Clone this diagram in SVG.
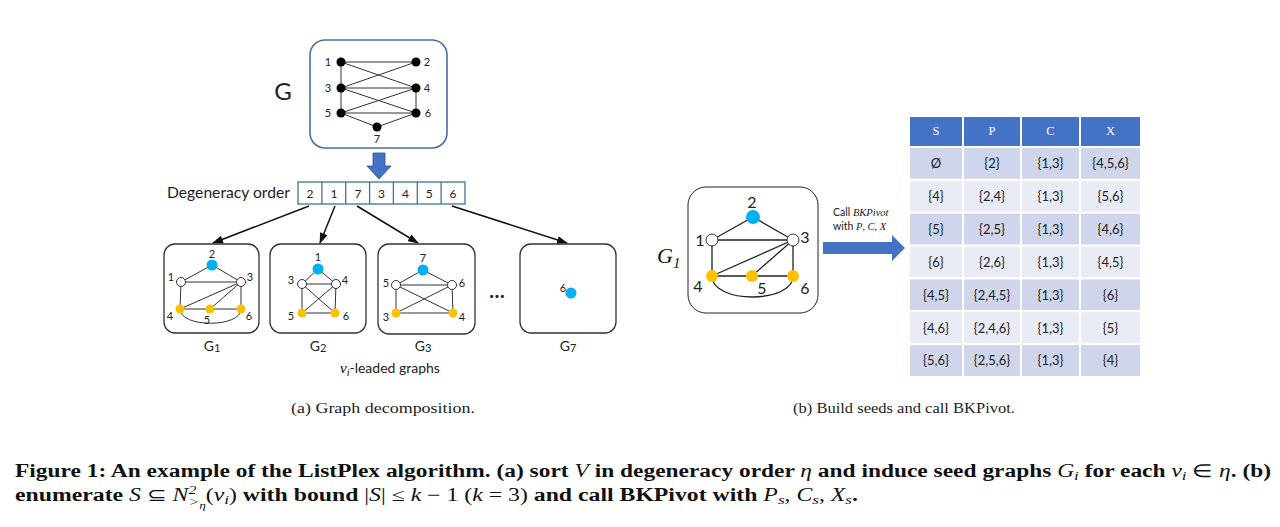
<svg xmlns="http://www.w3.org/2000/svg" width="1280" height="527" viewBox="0 0 1280 527">
<style>
.lbl{font-family:Lato,"Liberation Sans",sans-serif;fill:#222}
.sm{font-size:11px;text-anchor:middle}
.e{stroke:#333;stroke-width:1;fill:none}
.eb{stroke:#222;stroke-width:1.3;fill:none}
.blue{fill:#00B0F0}
.org{fill:#FFC000}
.wht{fill:#fff;stroke:#333;stroke-width:1}
.blk{fill:#000}
.sub{fill:none;stroke:#333;stroke-width:1.3}
.conn{stroke:#111;stroke-width:1.5;fill:none;marker-end:url(#ah)}
.cell{fill:none;stroke:#41719C;stroke-width:1.3}
.hd{fill:#4472C4;stroke:#fff;stroke-width:2}
.r1{fill:#CFD5EA;stroke:#fff;stroke-width:2}
.r2{fill:#E9EBF5;stroke:#fff;stroke-width:2}
.ht{font-family:"Liberation Serif",serif;font-size:12.5px;fill:#fff;text-anchor:middle}
.bt{font-family:Lato,"Liberation Sans",sans-serif;font-size:13px;fill:#222;text-anchor:middle}
.math{font-family:"Liberation Serif","DejaVu Serif",serif;font-style:italic}
.cap{font-family:"Liberation Serif",serif;font-weight:bold;font-size:18px;fill:#111}
.sc{font-family:"Liberation Serif",serif;font-size:14.5px;fill:#222}
</style>
<defs>
<marker id="ah" markerWidth="11" markerHeight="8" refX="10" refY="4" orient="auto" markerUnits="userSpaceOnUse">
<path d="M0,0 L11,4 L0,8 Z" fill="#111"/>
</marker>
</defs>

<g id="graph-G">
<rect x="310" y="40" width="137" height="108" rx="15" fill="none" stroke="#4A6FA5" stroke-width="1.6"/>
<g class="e">
<line x1="341" y1="62" x2="416" y2="62"/>
<line x1="341" y1="62" x2="341" y2="88"/>
<line x1="341" y1="62" x2="416" y2="88"/>
<line x1="416" y1="62" x2="341" y2="88"/>
<line x1="341" y1="88" x2="416" y2="88"/>
<line x1="341" y1="88" x2="341" y2="113"/>
<line x1="341" y1="88" x2="416" y2="113"/>
<line x1="416" y1="88" x2="341" y2="113"/>
<line x1="416" y1="88" x2="416" y2="113"/>
<line x1="341" y1="113" x2="416" y2="113"/>
<line x1="341" y1="113" x2="377" y2="127"/>
<line x1="416" y1="113" x2="377" y2="127"/>
</g>
<g class="blk">
<circle cx="341" cy="62" r="4.5"/><circle cx="416" cy="62" r="4.5"/>
<circle cx="341" cy="88" r="4.5"/><circle cx="416" cy="88" r="4.5"/>
<circle cx="341" cy="113" r="4.5"/><circle cx="416" cy="113" r="4.5"/>
<circle cx="377" cy="127" r="4.5"/>
</g>
<g class="lbl sm">
<text x="328" y="66">1</text><text x="427" y="66">2</text>
<text x="328" y="92">3</text><text x="427" y="92">4</text>
<text x="328" y="117">5</text><text x="428" y="117">6</text>
<text x="377" y="143">7</text>
</g>
<text class="lbl" x="283" y="100" font-size="24" text-anchor="middle">G</text>
</g>

<g id="down-arrow">
<polygon points="373,153 385,153 385,166 391,166 379,179 367,166 373,166" fill="#4472C4" stroke="#2F528F" stroke-width="0.8"/>
</g>

<g id="degeneracy-order">
<text class="lbl" x="167" y="198" font-size="15" textLength="123" lengthAdjust="spacingAndGlyphs">Degeneracy order</text>
<rect class="cell" x="298" y="182" width="167" height="22"/>
<g class="cell">
<line x1="321.9" y1="182" x2="321.9" y2="204"/>
<line x1="345.7" y1="182" x2="345.7" y2="204"/>
<line x1="369.6" y1="182" x2="369.6" y2="204"/>
<line x1="393.4" y1="182" x2="393.4" y2="204"/>
<line x1="417.3" y1="182" x2="417.3" y2="204"/>
<line x1="441.1" y1="182" x2="441.1" y2="204"/>
</g>
<g class="lbl" font-size="12" text-anchor="middle">
<text x="310" y="198">2</text><text x="334" y="198">1</text><text x="358" y="198">7</text>
<text x="381.5" y="198">3</text><text x="405.4" y="198">4</text><text x="429.2" y="198">5</text>
<text x="453" y="198">6</text>
</g>
</g>

<g id="connectors">
<line class="conn" x1="309" y1="206" x2="213" y2="243"/>
<line class="conn" x1="335" y1="206" x2="320" y2="243"/>
<line class="conn" x1="357" y1="206" x2="418" y2="243"/>
<line class="conn" x1="452" y1="206" x2="567" y2="243"/>
</g>

<g id="G1-small">
<rect class="sub" x="164" y="244" width="95" height="89" rx="11"/>
<g class="e">
<line x1="181" y1="282" x2="212" y2="265"/>
<line x1="212" y1="265" x2="241" y2="282"/>
<line x1="181" y1="282" x2="241" y2="282"/>
<line x1="181" y1="282" x2="180" y2="309"/>
<line x1="241" y1="282" x2="180" y2="309"/>
<line x1="241" y1="282" x2="210" y2="309"/>
<line x1="241" y1="282" x2="241" y2="309"/>
<line x1="180" y1="309" x2="241" y2="309"/>
<path d="M180,309 C180,328 241,328 241,309"/>
</g>
<circle class="blue" cx="212" cy="265" r="5.5"/>
<circle class="wht" cx="181" cy="282" r="4.5"/><circle class="wht" cx="241" cy="282" r="4.5"/>
<circle class="org" cx="180" cy="309" r="4.5"/><circle class="org" cx="210" cy="309" r="4.5"/><circle class="org" cx="241" cy="309" r="4.5"/>
<g class="lbl sm">
<text x="212" y="258">2</text><text x="171" y="281">1</text><text x="250" y="281">3</text>
<text x="170" y="320">4</text><text x="207" y="324">5</text><text x="249" y="320">6</text>
</g>
<text class="lbl" x="212" y="351" font-size="14" text-anchor="middle">G<tspan font-size="11" dy="1">1</tspan></text>
</g>

<g id="G2-small">
<rect class="sub" x="270" y="244" width="96" height="89" rx="11"/>
<g class="e">
<line x1="318" y1="269" x2="302" y2="284"/>
<line x1="318" y1="269" x2="336" y2="284"/>
<line x1="302" y1="284" x2="336" y2="284"/>
<line x1="302" y1="284" x2="302" y2="313"/>
<line x1="336" y1="284" x2="335" y2="313"/>
<line x1="302" y1="284" x2="335" y2="313"/>
<line x1="336" y1="284" x2="302" y2="313"/>
<line x1="302" y1="313" x2="335" y2="313"/>
</g>
<circle class="blue" cx="318" cy="269" r="5.5"/>
<circle class="wht" cx="302" cy="284" r="4.5"/><circle class="wht" cx="336" cy="284" r="4.5"/>
<circle class="org" cx="302" cy="313" r="4.5"/><circle class="org" cx="335" cy="313" r="4.5"/>
<g class="lbl sm">
<text x="318" y="261">1</text><text x="291" y="284">3</text><text x="345" y="284">4</text>
<text x="291" y="320">5</text><text x="346" y="320">6</text>
</g>
<text class="lbl" x="318" y="351" font-size="14" text-anchor="middle">G<tspan font-size="11" dy="1">2</tspan></text>
</g>

<g id="G3-small">
<rect class="sub" x="378" y="244" width="97" height="90" rx="11"/>
<g class="e">
<line x1="423" y1="270" x2="396" y2="285"/>
<line x1="423" y1="270" x2="452" y2="285"/>
<line x1="396" y1="285" x2="452" y2="285"/>
<line x1="396" y1="285" x2="396" y2="313"/>
<line x1="452" y1="285" x2="453" y2="313"/>
<line x1="396" y1="285" x2="453" y2="313"/>
<line x1="452" y1="285" x2="396" y2="313"/>
<line x1="396" y1="313" x2="453" y2="313"/>
</g>
<circle class="blue" cx="423" cy="270" r="5.5"/>
<circle class="wht" cx="396" cy="285" r="4.5"/><circle class="wht" cx="452" cy="285" r="4.5"/>
<circle class="org" cx="396" cy="313" r="4.5"/><circle class="org" cx="453" cy="313" r="4.5"/>
<g class="lbl sm">
<text x="423" y="262">7</text><text x="386" y="287">5</text><text x="462" y="287">6</text>
<text x="386" y="321">3</text><text x="462" y="321">4</text>
</g>
<text class="lbl" x="423" y="351" font-size="14" text-anchor="middle">G<tspan font-size="11" dy="1">3</tspan></text>
</g>

<g id="ellipsis">
<text class="lbl" x="497" y="298" font-size="20" font-weight="bold" text-anchor="middle">…</text>
</g>

<g id="G7-small">
<rect class="sub" x="520" y="244" width="96" height="89" rx="11"/>
<circle class="blue" cx="571" cy="293" r="5.5"/>
<text class="lbl sm" x="563" y="292">6</text>
<text class="lbl" x="568" y="351" font-size="14" text-anchor="middle">G<tspan font-size="11" dy="1">7</tspan></text>
</g>

<g id="leaded-label">
<text x="340" y="373" font-size="14"><tspan class="math" font-size="15">v</tspan><tspan class="math" font-size="10" dy="3">i</tspan><tspan class="lbl" dy="-3">-leaded graphs</tspan></text>
</g>

<g id="G1-large">
<rect x="688" y="187" width="130" height="126" rx="18" fill="none" stroke="#222" stroke-width="1"/>
<g class="eb">
<line x1="712" y1="240" x2="753" y2="217"/>
<line x1="753" y1="217" x2="793" y2="240"/>
<line x1="712" y1="240" x2="793" y2="240"/>
<line x1="712" y1="240" x2="712" y2="276"/>
<line x1="793" y1="240" x2="712" y2="276"/>
<line x1="793" y1="240" x2="752" y2="276"/>
<line x1="793" y1="240" x2="793" y2="276"/>
<line x1="712" y1="276" x2="793" y2="276"/>
<path d="M712,276 C712,304 793,304 793,276"/>
</g>
<circle class="blue" cx="753" cy="217" r="7"/>
<circle class="wht" cx="712" cy="240" r="6"/><circle class="wht" cx="793" cy="240" r="6"/>
<circle class="org" cx="712" cy="276" r="6"/><circle class="org" cx="752" cy="276" r="6"/><circle class="org" cx="793" cy="276" r="6"/>
<g class="lbl" font-size="16" text-anchor="middle">
<text x="752" y="208">2</text><text x="700" y="246">1</text><text x="805" y="243">3</text>
<text x="698" y="292">4</text><text x="762" y="294">5</text><text x="805" y="294">6</text>
</g>
<text x="657" y="263" class="math" font-size="22" fill="#111">G<tspan font-size="15" dy="5">1</tspan></text>
</g>

<g id="call-arrow">
<polygon points="823,242 892,242 892,235 905,248 892,261 892,254 823,254" fill="#4472C4"/>
<text x="833" y="216" font-size="10.5" fill="#222"><tspan class="lbl">Call </tspan><tspan class="math">BKPivot</tspan></text>
<text x="833" y="230" font-size="10.5" fill="#222"><tspan class="lbl">with </tspan><tspan class="math">P</tspan><tspan class="lbl">, </tspan><tspan class="math">C</tspan><tspan class="lbl">, </tspan><tspan class="math">X</tspan></text>
</g>

<g id="table">
<rect class="hd" x="909" y="116" width="54" height="31"/>
<rect class="hd" x="963" y="116" width="58" height="31"/>
<rect class="hd" x="1021" y="116" width="59" height="31"/>
<rect class="hd" x="1080" y="116" width="61" height="31"/>
<text class="ht" x="936" y="135">S</text><text class="ht" x="992" y="135">P</text>
<text class="ht" x="1050.5" y="135">C</text><text class="ht" x="1110.5" y="135">X</text>

<g>
<rect class="r1" x="909" y="147" width="54" height="32.9"/><rect class="r1" x="963" y="147" width="58" height="32.9"/><rect class="r1" x="1021" y="147" width="59" height="32.9"/><rect class="r1" x="1080" y="147" width="61" height="32.9"/>
<rect class="r2" x="909" y="179.9" width="54" height="32.9"/><rect class="r2" x="963" y="179.9" width="58" height="32.9"/><rect class="r2" x="1021" y="179.9" width="59" height="32.9"/><rect class="r2" x="1080" y="179.9" width="61" height="32.9"/>
<rect class="r1" x="909" y="212.7" width="54" height="32.9"/><rect class="r1" x="963" y="212.7" width="58" height="32.9"/><rect class="r1" x="1021" y="212.7" width="59" height="32.9"/><rect class="r1" x="1080" y="212.7" width="61" height="32.9"/>
<rect class="r2" x="909" y="245.6" width="54" height="32.9"/><rect class="r2" x="963" y="245.6" width="58" height="32.9"/><rect class="r2" x="1021" y="245.6" width="59" height="32.9"/><rect class="r2" x="1080" y="245.6" width="61" height="32.9"/>
<rect class="r1" x="909" y="278.4" width="54" height="32.9"/><rect class="r1" x="963" y="278.4" width="58" height="32.9"/><rect class="r1" x="1021" y="278.4" width="59" height="32.9"/><rect class="r1" x="1080" y="278.4" width="61" height="32.9"/>
<rect class="r2" x="909" y="311.3" width="54" height="32.9"/><rect class="r2" x="963" y="311.3" width="58" height="32.9"/><rect class="r2" x="1021" y="311.3" width="59" height="32.9"/><rect class="r2" x="1080" y="311.3" width="61" height="32.9"/>
<rect class="r1" x="909" y="344.1" width="54" height="32.9"/><rect class="r1" x="963" y="344.1" width="58" height="32.9"/><rect class="r1" x="1021" y="344.1" width="59" height="32.9"/><rect class="r1" x="1080" y="344.1" width="61" height="32.9"/>
</g>
<g class="bt">
<text x="936" y="168">Ø</text><text x="992" y="168">{2}</text><text x="1050.5" y="168">{1,3}</text><text x="1110.5" y="168">{4,5,6}</text>
<text x="936" y="201">{4}</text><text x="992" y="201">{2,4}</text><text x="1050.5" y="201">{1,3}</text><text x="1110.5" y="201">{5,6}</text>
<text x="936" y="234">{5}</text><text x="992" y="234">{2,5}</text><text x="1050.5" y="234">{1,3}</text><text x="1110.5" y="234">{4,6}</text>
<text x="936" y="266.5">{6}</text><text x="992" y="266.5">{2,6}</text><text x="1050.5" y="266.5">{1,3}</text><text x="1110.5" y="266.5">{4,5}</text>
<text x="936" y="299.5">{4,5}</text><text x="992" y="299.5">{2,4,5}</text><text x="1050.5" y="299.5">{1,3}</text><text x="1110.5" y="299.5">{6}</text>
<text x="936" y="332.5">{4,6}</text><text x="992" y="332.5">{2,4,6}</text><text x="1050.5" y="332.5">{1,3}</text><text x="1110.5" y="332.5">{5}</text>
<text x="936" y="365">{5,6}</text><text x="992" y="365">{2,5,6}</text><text x="1050.5" y="365">{1,3}</text><text x="1110.5" y="365">{4}</text>
</g>
</g>

<g id="subcaptions">
<text class="sc" x="291" y="413" textLength="184" lengthAdjust="spacingAndGlyphs">(a) Graph decomposition.</text>
<text class="sc" x="793" y="413" textLength="222" lengthAdjust="spacingAndGlyphs">(b) Build seeds and call BKPivot.</text>
</g>

<g id="caption">
<text class="cap" x="15" y="477" textLength="1256" lengthAdjust="spacingAndGlyphs">Figure 1: An example of the ListPlex algorithm. (a) sort <tspan class="math" font-weight="normal">V</tspan> in degeneracy order <tspan class="math" font-weight="normal">η</tspan> and induce seed graphs <tspan class="math" font-weight="normal">G<tspan font-size="13" dy="3">i</tspan></tspan><tspan dy="-3"> for each </tspan><tspan class="math" font-weight="normal">v<tspan font-size="13" dy="3">i</tspan></tspan><tspan font-weight="normal" dy="-3"> ∈ </tspan><tspan class="math" font-weight="normal">η</tspan>. (b)</text>
<text class="cap" x="15" y="501" textLength="843" lengthAdjust="spacingAndGlyphs">enumerate <tspan class="math" font-weight="normal">S</tspan><tspan font-weight="normal"> ⊆ </tspan><tspan class="math" font-weight="normal">N<tspan font-size="12" dy="-7">2</tspan><tspan font-size="12" dx="-6" dy="12">&gt;</tspan><tspan font-size="10" dy="3">η</tspan></tspan><tspan font-weight="normal" dy="-8">(</tspan><tspan class="math" font-weight="normal">v<tspan font-size="13" dy="3">i</tspan></tspan><tspan font-weight="normal" dy="-3">)</tspan> with bound <tspan font-weight="normal">|</tspan><tspan class="math" font-weight="normal">S</tspan><tspan font-weight="normal">| ≤ </tspan><tspan class="math" font-weight="normal">k</tspan><tspan font-weight="normal"> − 1 (</tspan><tspan class="math" font-weight="normal">k</tspan><tspan font-weight="normal"> = 3)</tspan> and call BKPivot with <tspan class="math" font-weight="normal">P<tspan font-size="13" dy="3">s</tspan></tspan><tspan font-weight="normal" dy="-3">, </tspan><tspan class="math" font-weight="normal">C<tspan font-size="13" dy="3">s</tspan></tspan><tspan font-weight="normal" dy="-3">, </tspan><tspan class="math" font-weight="normal">X<tspan font-size="13" dy="3">s</tspan></tspan><tspan dy="-3">.</tspan></text>
</g>
</svg>
